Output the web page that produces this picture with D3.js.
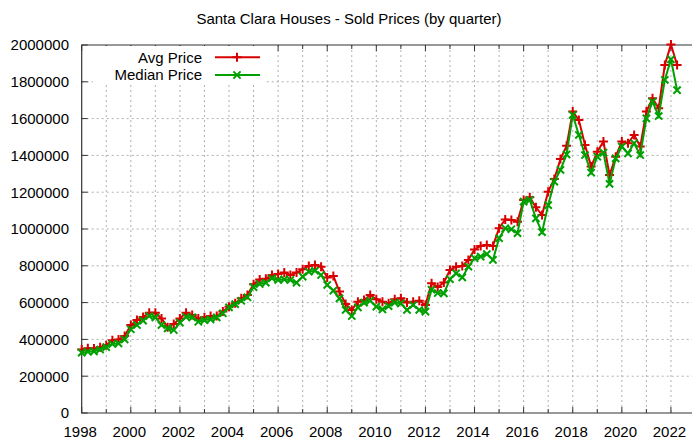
<!DOCTYPE html>
<html>
<head>
<meta charset="utf-8">
<script src="https://cdn.jsdelivr.net/npm/d3@7"></script>
<style>
  body { margin: 0; background: #fff; }
  svg { display: block; font-family: "Liberation Sans", Arial, sans-serif; }
</style>
</head>
<body>
<svg></svg>
<script>
var viewWidth = 692;
var viewHeight = 442;

// quarterly data, first quarter 1998 Q1
var startYear = 1998;
var avgPrice = [
  345000, 352000, 350000, 358000, 368000, 395000, 400000, 418000,
  478000, 505000, 522000, 545000, 545000, 514000, 466000, 484000,
  514000, 545000, 533000, 514000, 520000, 527000, 527000, 551000,
  578000, 596000, 623000, 641000, 700000, 726000, 730000, 750000,
  755000, 763000, 750000, 763000, 781000, 799000, 805000, 795000,
  737000, 745000, 660000, 592000, 560000, 605000, 614000, 641000,
  618000, 605000, 596000, 618000, 623000, 600000, 605000, 610000,
  587000, 705000, 685000, 709000, 777000, 795000, 799000, 832000,
  889000, 908000, 913000, 908000, 1004000, 1052000, 1049000, 1040000,
  1158000, 1172000, 1118000, 1076000, 1203000, 1272000, 1380000, 1452000,
  1638000, 1592000, 1457000, 1339000, 1420000, 1475000, 1293000, 1393000,
  1475000, 1466000, 1511000, 1448000, 1638000, 1710000, 1656000, 1891000,
  2003000, 1891000
];
var medianPrice = [
  328000, 333000, 335000, 345000, 358000, 375000, 378000, 400000,
  455000, 478000, 502000, 527000, 520000, 478000, 460000, 451000,
  491000, 522000, 520000, 496000, 505000, 509000, 520000, 542000,
  574000, 592000, 610000, 629000, 684000, 701000, 708000, 732000,
  723000, 726000, 723000, 708000, 741000, 768000, 773000, 750000,
  696000, 665000, 623000, 560000, 527000, 574000, 600000, 610000,
  578000, 563000, 581000, 600000, 596000, 560000, 587000, 560000,
  551000, 670000, 652000, 650000, 727000, 759000, 737000, 795000,
  841000, 850000, 864000, 832000, 950000, 1004000, 999000, 977000,
  1149000, 1158000, 1058000, 983000, 1130000, 1257000, 1321000, 1405000,
  1620000, 1511000, 1402000, 1306000, 1393000, 1415000, 1245000, 1384000,
  1448000, 1411000, 1466000, 1402000, 1601000, 1692000, 1614000, 1810000,
  1922000, 1755000
];
var yTicks = [0, 200000, 400000, 600000, 800000, 1000000, 1200000, 1400000, 1600000, 1800000, 2000000];
var xTickYears = [1998, 2000, 2002, 2004, 2006, 2008, 2010, 2012, 2014, 2016, 2018, 2020, 2022];
var seriesNames = ["Avg Price", "Median Price"];

var colors = ["#d80000", "#00a000"];

var svg = d3.select("svg")
    .attr("width", viewWidth)
    .attr("height", viewHeight);

var plotLeft = 81.7, plotRight = 695.5, plotTop = 45, plotBottom = 413;

var x = d3.scaleLinear().domain([1998, 2023]).range([plotLeft, plotRight]);
var y = d3.scaleLinear().domain([0, 2000000]).range([plotBottom, plotTop]);

var series = [avgPrice, medianPrice].map(function(vals) {
    return vals.map(function(v, i) { return {t: startYear + i / 4, v: v}; });
});

// title
svg.append("text")
    .attr("x", 349)
    .attr("y", 23.5)
    .attr("text-anchor", "middle")
    .style("font-size", "15px")
    .style("fill", "#000")
    .text("Santa Clara Houses - Sold Prices (by quarter)");

// grid
var yearsAll = d3.range(1999, 2023);
svg.append("g").selectAll("line")
    .data(yearsAll)
    .enter().append("line")
    .attr("x1", function(d) { return x(d); })
    .attr("x2", function(d) { return x(d); })
    .attr("y1", plotTop).attr("y2", plotBottom)
    .attr("stroke", "#b0b0b0")
    .attr("stroke-dasharray", "2,3");

svg.append("g").selectAll("line")
    .data(yTicks.slice(1, -1))
    .enter().append("line")
    .attr("x1", plotLeft).attr("x2", viewWidth)
    .attr("y1", function(d) { return y(d); })
    .attr("y2", function(d) { return y(d); })
    .attr("stroke", "#b0b0b0")
    .attr("stroke-dasharray", "2,3");

// ticks (inward)
var tickG = svg.append("g").attr("stroke", "#333").attr("stroke-width", 1);
tickG.selectAll(".xt")
    .data(d3.range(1998, 2024))
    .enter().append("path")
    .attr("d", function(d) {
        var len = d % 2 === 0 ? 6 : 4;
        var xx = x(d);
        return "M" + xx + "," + plotBottom + "V" + (plotBottom - len) + "M" + xx + "," + plotTop + "V" + (plotTop + len);
    });
tickG.selectAll(".yt")
    .data(yTicks)
    .enter().append("path")
    .attr("d", function(d) { return "M" + plotLeft + "," + y(d) + "h6"; });

// border
svg.append("path")
    .attr("d", "M" + viewWidth + "," + plotTop + "H" + plotLeft + "V" + plotBottom + "H" + viewWidth)
    .attr("fill", "none")
    .attr("stroke", "#333")
    .attr("stroke-width", 1.2);

// tick labels
svg.append("g").selectAll("text")
    .data(yTicks)
    .enter().append("text")
    .attr("x", 69)
    .attr("y", function(d) { return y(d); })
    .attr("dy", "0.36em")
    .attr("text-anchor", "end")
    .style("font-size", "15px")
    .text(function(d) { return d; });

svg.append("g").selectAll("text")
    .data(xTickYears)
    .enter().append("text")
    .attr("x", function(d) { return x(d) - 1.5; })
    .attr("y", 437)
    .attr("text-anchor", "middle")
    .style("font-size", "15px")
    .text(function(d) { return d; });

// key background
svg.append("rect")
    .attr("x", 93).attr("y", plotTop + 1)
    .attr("width", 173).attr("height", 37)
    .attr("fill", "#fff");

var line = d3.line()
    .x(function(d) { return x(d.t); })
    .y(function(d) { return y(d.v); });

function plusPath(cx, cy) {
    var s = 4.5;
    return "M" + (cx - s) + "," + cy + "h" + (2 * s) + "M" + cx + "," + (cy - s) + "v" + (2 * s);
}
function crossPath(cx, cy) {
    var s = 3.6;
    return "M" + (cx - s) + "," + (cy - s) + "l" + (2 * s) + "," + (2 * s) +
        "M" + (cx - s) + "," + (cy + s) + "l" + (2 * s) + "," + (-2 * s);
}
var markers = [plusPath, crossPath];

series.forEach(function(data, k) {
    var g = svg.append("g");
    g.append("path")
        .datum(data)
        .attr("d", line)
        .attr("fill", "none")
        .attr("stroke", colors[k])
        .attr("stroke-width", 2);
    g.selectAll("path.m")
        .data(data)
        .enter().append("path")
        .attr("class", "m")
        .attr("d", function(d) { return markers[k](x(d.t), y(d.v)); })
        .attr("fill", "none")
        .attr("stroke", colors[k])
        .attr("stroke-width", 2);
});

// legend
var keyY = [57.3, 75];
seriesNames.forEach(function(name, k) {
    svg.append("text")
        .attr("x", 202)
        .attr("y", keyY[k])
        .attr("dy", "0.36em")
        .attr("text-anchor", "end")
        .style("font-size", "15px")
        .text(name);
    svg.append("line")
        .attr("x1", 215).attr("x2", 260)
        .attr("y1", keyY[k]).attr("y2", keyY[k])
        .attr("stroke", colors[k])
        .attr("stroke-width", 2);
    svg.append("path")
        .attr("d", markers[k](237, keyY[k]))
        .attr("fill", "none")
        .attr("stroke", colors[k])
        .attr("stroke-width", 2);
});
</script>
</body>
</html>
